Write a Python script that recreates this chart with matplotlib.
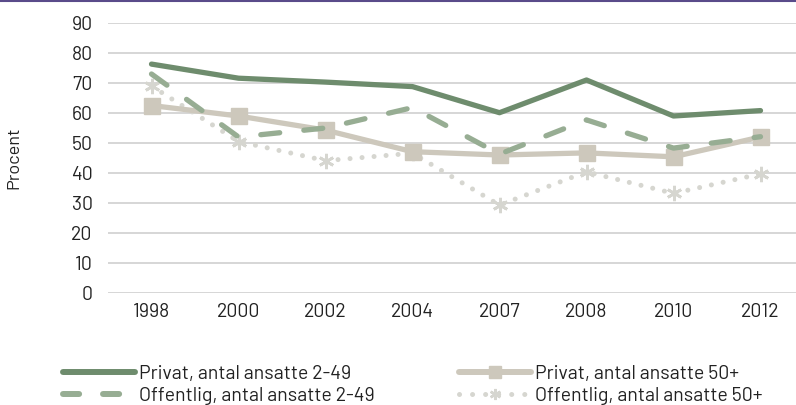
import matplotlib
matplotlib.use("Agg")
import matplotlib.pyplot as plt
from matplotlib.lines import Line2D

plt.rcParams['font.family'] = ['Barlow', 'DejaVu Sans']

years = ['1998', '2000', '2002', '2004', '2007', '2008', '2010', '2012']
privat_small = [76.3, 71.6, 70.3, 68.8, 60.1, 71.0, 59.0, 60.8]
offentlig_small = [73.0, 52.0, 55.0, 61.8, 46.3, 57.7, 48.3, 52.1]
privat_large = [62.5, 59.0, 54.3, 47.1, 46.0, 46.7, 45.4, 52.0]
offentlig_large = [69.0, 50.5, 44.1, 46.6, 29.3, 40.4, 33.2, 39.7]

labels = ['Privat, antal ansatte 2-49', 'Offentlig, antal ansatte 2-49',
          'Privat, antal ansatte 50+', 'Offentlig, antal ansatte 50+']

c_dark = '#6e8c6d'
c_mid = '#97ad93'
c_beige = '#cdc8bc'
c_dot = '#d6d6d0'
c_text = '#222222'

fig = plt.figure(figsize=(7.96, 4.05), dpi=100)
ax = fig.add_axes([108 / 796, 112 / 405, 696 / 796, 270 / 405])
x = range(len(years))

ax.plot(x, offentlig_large, color=c_dot, lw=3.6, linestyle=(0, (0.01, 2.4)),
        dash_capstyle='round', marker=(6, 2, 0), markersize=11,
        markeredgewidth=2, markeredgecolor=c_dot, zorder=2)
ax.plot(x, privat_large, color=c_beige, lw=3.8, marker='s', markersize=11,
        markeredgecolor=c_beige, solid_capstyle='round', zorder=3)
ax.plot(x, offentlig_small, color=c_mid, lw=3.8, linestyle=(0, (3.6, 4.6)),
        dash_capstyle='round', zorder=4)
ax.plot(x, privat_small, color=c_dark, lw=3.8, solid_capstyle='round', zorder=5)

ax.set_xlim(-0.5, len(years) - 0.5)
ax.set_ylim(0, 90)
ax.set_yticks(range(0, 91, 10))
ax.set_xticks(list(x))
ax.set_xticklabels(years)
ax.yaxis.grid(True, color='#d0d0d0', lw=1.2)
ax.set_axisbelow(True)
for s in ax.spines.values():
    s.set_visible(False)
ax.tick_params(axis='both', length=0, labelsize=14, colors=c_text)
ax.tick_params(axis='y', pad=11)
ax.tick_params(axis='x', pad=7)
ax.set_ylabel('Procent', fontsize=13, color=c_text)
ax.yaxis.set_label_coords(-0.124, 0.5)

h_priv_small = Line2D([], [], color=c_dark, lw=4.3, solid_capstyle='round')
h_off_small = Line2D([], [], color=c_mid, lw=4.3, linestyle=(0, (2.7, 4.0)),
                     dash_capstyle='round')
h_priv_large = Line2D([], [], color=c_beige, lw=4.3, marker='s', markersize=8.5,
                      markeredgecolor=c_beige, solid_capstyle='round')
h_off_large = Line2D([], [], color=c_dot, lw=3.6, linestyle=(0, (0.01, 2.6)),
                     dash_capstyle='round', marker=(6, 2, 0), markersize=8,
                     markeredgewidth=1.8, markeredgecolor=c_dot)

legend_kw = dict(loc='center left', frameon=False, fontsize=14, handlelength=3.7,
                 handletextpad=0.2, labelspacing=0.22, borderaxespad=0, borderpad=0)
leg1 = fig.legend([h_priv_small, h_off_small], labels[:2],
                  bbox_to_anchor=(63 / 796, 1 - 385 / 405), **legend_kw)
leg2 = fig.legend([h_priv_large, h_off_large], labels[2:],
                  bbox_to_anchor=(459 / 796, 1 - 385 / 405), **legend_kw)
for leg in (leg1, leg2):
    for t in leg.get_texts():
        t.set_color(c_text)

# purple rule along the top edge
fig.add_artist(Line2D([0, 1], [1 - 0.5 / 405, 1 - 0.5 / 405], color='#5a4b8a', lw=1.5))

fig.savefig('out.png', dpi=100)
